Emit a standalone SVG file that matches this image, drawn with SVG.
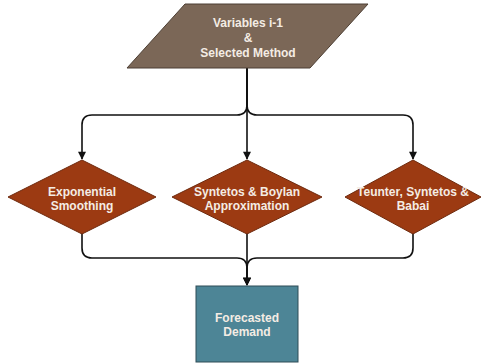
<svg xmlns="http://www.w3.org/2000/svg" width="482" height="364" viewBox="0 0 482 364">
  <style>
    .lbl { font-family: "Liberation Sans", Arial, sans-serif; font-size: 12px; font-weight: bold; fill: #f4ece4; text-anchor: middle; }
    .edge { fill: none; stroke: #111; stroke-width: 1.6; }
    .dec { fill: #9c3a12; stroke: #6e2a0e; stroke-width: 1; }
  </style>
  <defs>
    <marker id="arrow" viewBox="0 0 10 10" refX="9" refY="5" markerWidth="9" markerHeight="8" orient="auto" markerUnits="userSpaceOnUse">
      <path d="M0,0 L10,5 L0,10 z" fill="#111"/>
    </marker>
  </defs>
  <rect width="482" height="364" fill="#ffffff"/>

  <g id="connectors">
    <path class="edge" d="M247,68 V105 Q247,115 237,115 H92 Q82,115 82,125 V159" marker-end="url(#arrow)"/>
    <path class="edge" d="M247,68 V159" marker-end="url(#arrow)"/>
    <path class="edge" d="M247,68 V105 Q247,115 257,115 H403 Q413,115 413,125 V159" marker-end="url(#arrow)"/>
    <path class="edge" d="M82,233 V248 Q82,258 92,258 H237 Q247,258 247,268 V285" marker-end="url(#arrow)"/>
    <path class="edge" d="M247,233 V285" marker-end="url(#arrow)"/>
    <path class="edge" d="M413,233 V248 Q413,258 403,258 H257 Q247,258 247,268 V285" marker-end="url(#arrow)"/>
  </g>

  <g id="input">
    <polygon points="185,4 368,4 310,68 127,68" fill="#7b6757" stroke="#4d3f34" stroke-width="1"/>
    <text class="lbl" x="248" y="27">Variables i-1</text>
    <text class="lbl" x="248" y="42">&amp;</text>
    <text class="lbl" x="248" y="57">Selected Method</text>
  </g>

  <g id="exp-smoothing">
    <polygon class="dec" points="82,160 156,197 82,234 8,197"/>
    <text class="lbl" x="82" y="196">Exponential</text>
    <text class="lbl" x="82" y="210">Smoothing</text>
  </g>

  <g id="sba">
    <polygon class="dec" points="247,160 322,197 247,234 172,197"/>
    <text class="lbl" x="247" y="196">Syntetos &amp; Boylan</text>
    <text class="lbl" x="247" y="210">Approximation</text>
  </g>

  <g id="tsb">
    <polygon class="dec" points="413,160 481,197 413,234 345,197"/>
    <text class="lbl" x="413" y="196">Teunter, Syntetos &amp;</text>
    <text class="lbl" x="413" y="210">Babai</text>
  </g>

  <g id="forecast">
    <rect x="196" y="286" width="102" height="76" fill="#4d8596" stroke="#2f4d57" stroke-width="1"/>
    <text class="lbl" x="247" y="322">Forecasted</text>
    <text class="lbl" x="247" y="336">Demand</text>
  </g>
</svg>
